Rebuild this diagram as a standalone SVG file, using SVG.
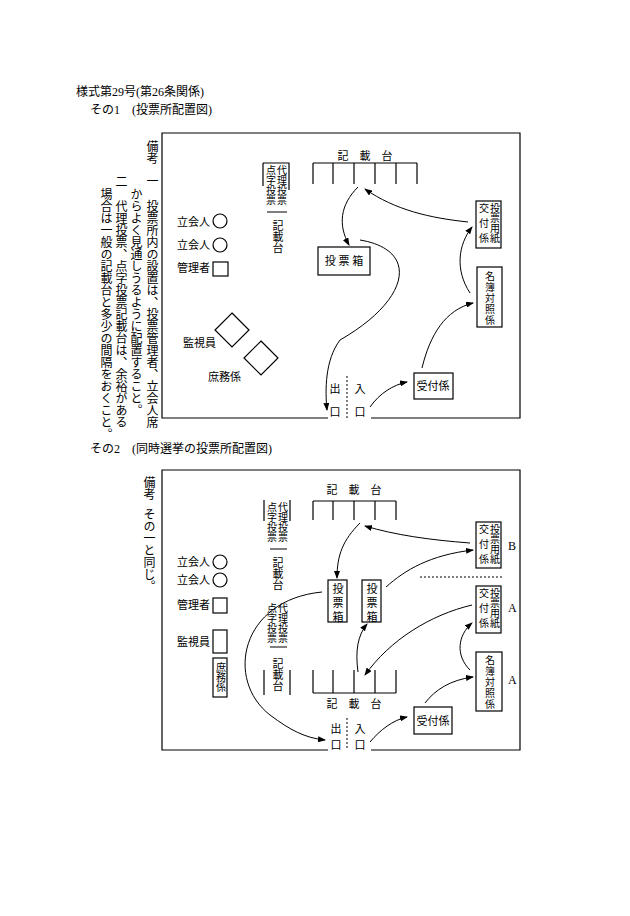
<svg xmlns="http://www.w3.org/2000/svg" width="630" height="916" viewBox="0 0 630 916">
<style>
text{font-family:"Liberation Serif","Noto Sans CJK JP",serif;fill:#000}
.h{font-size:12px}
.s{font-size:11px}
.v{writing-mode:vertical-rl;font-size:12px}
.vs{writing-mode:vertical-rl;font-size:11px}
.vt{writing-mode:vertical-rl;font-size:10px}
.ln{fill:none;stroke:#000;stroke-width:1.2}
.b{fill:#fff;stroke:#000;stroke-width:1.2}
.a{fill:none;stroke:#000;stroke-width:1;marker-end:url(#ah)}
.d{stroke:#000;stroke-width:1;stroke-dasharray:2 2}
</style>
<defs><marker id="ah" markerWidth="8" markerHeight="6" refX="7" refY="3" orient="auto" markerUnits="userSpaceOnUse"><path d="M0,0 L8,3 L0,6 Z" fill="#000"/></marker></defs>
<rect width="630" height="916" fill="#fff"/>
<text class="h" x="76" y="96">様式第29号(第26条関係)</text>
<text class="h" x="90" y="114">その1　(投票所配置図)</text>
<text class="h" x="90" y="453">その2　(同時選挙の投票所配置図)</text>

<g id="remarks1">
<text class="v" x="151" y="140">備考</text>
<text class="v" x="151" y="175">一</text>
<text class="v" x="151" y="200">投票所内の設置は、投票管理者、立会人席</text>
<text class="v" x="135" y="188">からよく見通しうるように配置すること。</text>
<text class="v" x="120" y="175">二</text>
<text class="v" x="120" y="200">代理投票、点字投票記載台は、余裕がある</text>
<text class="v" x="105" y="188">場合は一般の記載台と多少の間隔をおくこと。</text>
</g>
<g id="remarks2">
<text class="v" x="148" y="476">備考</text>
<text class="v" x="148" y="508">その一と同じ。</text>
</g>

<!-- Diagram 1 -->
<g id="frame1"><path class="ln" d="M328,418 H162 V133 H520 V418 H371"/></g>
<g id="desk1">
<text class="s" x="365" y="160" text-anchor="middle">記　載　台</text>
<path class="ln" d="M313,163 H417 M313,163 V184 M333,163 V184 M354,163 V184 M375,163 V184 M396,163 V184 M417,163 V184"/>
</g>
<g id="special1">
<path class="ln" d="M263,163 V186 M263,163 H289 V190 M267,212 H287"/>
<text class="vt" x="281" y="165">代理投票</text>
<text class="vt" x="270" y="165">点字投票</text>
<text class="vs" x="277" y="220">記載台</text>
</g>
<g id="box1"><rect class="b" x="318" y="247" width="52" height="28"/><text class="s" x="344" y="265" text-anchor="middle">投 票 箱</text></g>
<g id="kofu1"><rect class="b" x="476" y="201" width="25" height="47"/><text class="vt" x="494" y="203">投票用紙</text><text class="vt" x="483" y="203" letter-spacing="5">交付係</text></g>
<g id="meibo1"><rect class="b" x="477" y="267" width="25" height="60"/><text class="vt" x="489" y="271" letter-spacing="1">名簿対照係</text></g>
<g id="uke1"><rect class="b" x="414" y="373" width="39" height="26"/><text class="s" x="433" y="390" text-anchor="middle">受付係</text></g>
<g id="gate1">
<line class="d" x1="347" y1="376" x2="347" y2="418"/>
<text class="s" x="335" y="393" text-anchor="middle">出</text><text class="s" x="335" y="416" text-anchor="middle">口</text>
<text class="s" x="360" y="393" text-anchor="middle">入</text><text class="s" x="360" y="416" text-anchor="middle">口</text>
</g>
<g id="staff1">
<text class="s" x="177" y="226">立会人</text><circle class="b" cx="220" cy="221" r="7"/>
<text class="s" x="177" y="249">立会人</text><circle class="b" cx="220" cy="245" r="7"/>
<text class="s" x="177" y="272">管理者</text><rect class="b" x="213" y="262" width="15" height="14"/>
<path class="b" d="M232,313 L249,330 L232,347 L215,330 Z"/>
<text class="s" x="183" y="347">監視員</text>
<path class="b" d="M261,341 L278,358 L261,375 L244,358 Z"/>
<text class="s" x="208" y="381">庶務係</text>
</g>
<g id="connectors1">
<path class="a" d="M358,187 C340,205 338,225 349,245"/>
<path class="a" d="M360,240 C420,250 410,300 340,340 C325,360 325,390 327,410"/>
<path class="a" d="M370,407 C380,393 393,385 407,382"/>
<path class="a" d="M422,368 C430,335 445,310 473,303"/>
<path class="a" d="M470,293 C455,270 458,245 472,227"/>
<path class="a" d="M468,222 C430,218 395,210 365,189"/>
</g>

<!-- Diagram 2 -->
<g id="frame2"><path class="ln" d="M328,750 H162 V470 H520 V750 H371"/></g>
<g id="desk2a">
<text class="s" x="354" y="494" text-anchor="middle">記　載　台</text>
<path class="ln" d="M313,501 H396 M313,501 V520 M333,501 V520 M354,501 V520 M375,501 V520 M396,501 V520"/>
</g>
<g id="special2a">
<path class="ln" d="M264,500 V521 M290,500 V521 M270,549 H287"/>
<text class="vt" x="282" y="502">代理投票</text>
<text class="vt" x="271" y="502">点字投票</text>
<text class="vs" x="277" y="557">記載台</text>
</g>
<g id="special2b">
<path class="ln" d="M264,670 V695 M290,670 V695 M270,647 H287"/>
<text class="vt" x="282" y="603">代理投票</text>
<text class="vt" x="271" y="603">点字投票</text>
<text class="vs" x="277" y="658">記載台</text>
</g>
<g id="desk2b">
<path class="ln" d="M313,693 H396 M313,670 V693 M333,670 V693 M354,670 V693 M375,670 V693 M396,670 V693"/>
<text class="s" x="354" y="708" text-anchor="middle">記　載　台</text>
</g>
<g id="box2a"><rect class="b" x="328" y="580" width="19" height="42"/><text class="vs" x="337" y="583" letter-spacing="3">投票箱</text></g>
<g id="box2b"><rect class="b" x="362" y="580" width="19" height="42"/><text class="vs" x="371" y="583" letter-spacing="3">投票箱</text></g>
<g id="kofuB"><rect class="b" x="476" y="522" width="25" height="46"/><text class="vt" x="494" y="524">投票用紙</text><text class="vt" x="483" y="524" letter-spacing="5">交付係</text><text class="h" x="508" y="550">B</text></g>
<line class="d" x1="420" y1="577" x2="503" y2="577" stroke-dasharray="4 3"/>
<g id="kofuA"><rect class="b" x="476" y="586" width="25" height="47"/><text class="vt" x="494" y="588">投票用紙</text><text class="vt" x="483" y="588" letter-spacing="5">交付係</text><text class="h" x="508" y="612">A</text></g>
<g id="meibo2"><rect class="b" x="476" y="652" width="26" height="59"/><text class="vt" x="489" y="655" letter-spacing="1">名簿対照係</text><text class="h" x="508" y="684">A</text></g>
<g id="uke2"><rect class="b" x="414" y="707" width="38" height="27"/><text class="s" x="433" y="725" text-anchor="middle">受付係</text></g>
<g id="gate2">
<line class="d" x1="347" y1="718" x2="347" y2="750"/>
<text class="s" x="336" y="733" text-anchor="middle">出</text><text class="s" x="336" y="749" text-anchor="middle">口</text>
<text class="s" x="360" y="733" text-anchor="middle">入</text><text class="s" x="360" y="749" text-anchor="middle">口</text>
</g>
<g id="staff2">
<text class="s" x="177" y="566">立会人</text><circle class="b" cx="220" cy="562" r="7"/>
<text class="s" x="177" y="584">立会人</text><circle class="b" cx="220" cy="580" r="7"/>
<text class="s" x="177" y="609">管理者</text><rect class="b" x="213" y="598" width="14" height="15"/>
<text class="s" x="177" y="646">監視員</text><rect class="b" x="213" y="630" width="14" height="23"/>
<rect class="b" x="213" y="658" width="14" height="39"/><text class="vt" x="220" y="662">庶務係</text>
</g>
<g id="connectors2">
<path class="a" d="M360,523 C343,540 337,555 337,578"/>
<path class="a" d="M470,543 C430,540 395,535 365,526"/>
<path class="a" d="M386,587 C405,570 430,555 473,550"/>
<path class="a" d="M322,592 C240,600 225,680 270,715 C290,730 305,738 325,740"/>
<path class="a" d="M358,672 C355,650 358,635 367,624"/>
<path class="a" d="M472,605 C430,615 390,640 365,675"/>
<path class="a" d="M470,670 C455,655 458,635 472,623"/>
<path class="a" d="M425,703 C435,690 450,680 473,677"/>
<path class="a" d="M370,742 C380,730 393,720 407,717"/>
</g>
</svg>
